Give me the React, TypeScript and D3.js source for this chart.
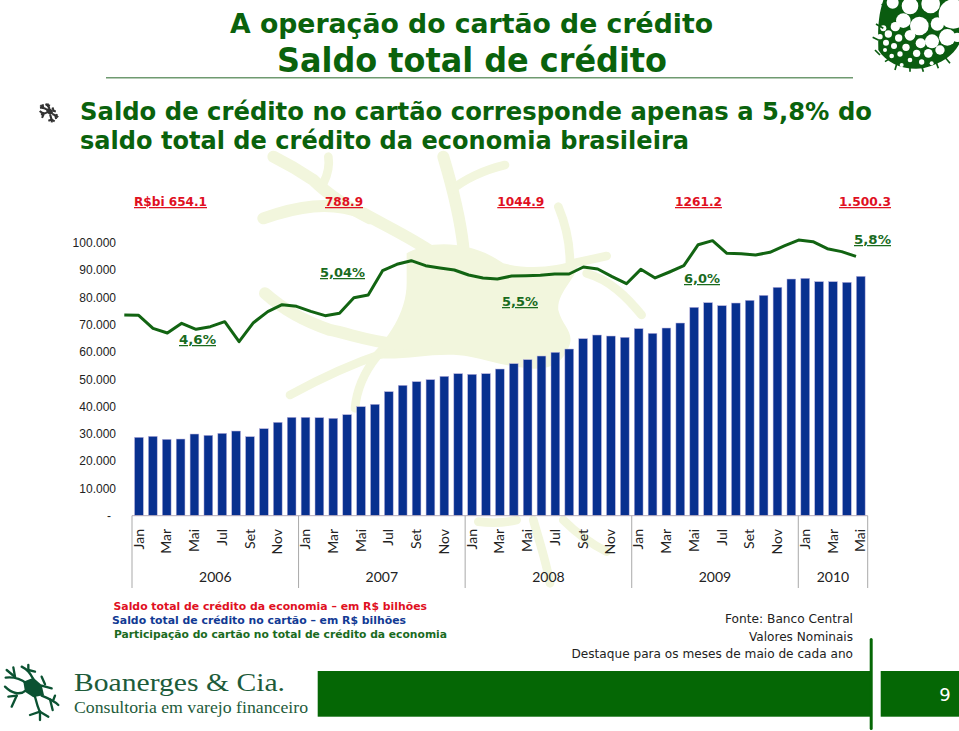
import React from "react";
import * as d3 from "d3";

const monthNames = ["Jan","Fev","Mar","Abr","Mai","Jun","Jul","Ago","Set","Out","Nov","Dez"];
const years = ["2006","2007","2008","2009","2010"];
const monthsPerYear = [12,12,12,12,5];
const cardBalance = [
  28694,29060,27960,28083,29915,29426,30159,31013,28938,31868,34188,36020,
  36020,35897,35653,36996,39927,40782,45421,47741,49084,49817,51038,52015,
  51770,52015,53724,55678,57143,58486,59829,61050,64835,66178,65812,65324,
  68498,66789,68742,70574,76313,78022,76923,77900,78877,80708,83639,86691,
  86935,85714,85714,85470,87668,
];
const cardShare = [
  4.897,4.892,4.692,4.620,4.769,4.677,4.718,4.795,4.487,4.779,4.949,5.056,5.031,
  4.954,4.887,4.923,5.164,5.205,5.579,5.677,5.733,5.656,5.621,5.590,5.513,5.467,
  5.451,5.497,5.503,5.508,5.528,5.528,5.636,5.605,5.487,5.379,5.600,5.467,5.559,
  5.656,5.979,6.041,5.846,5.841,5.821,5.862,5.959,6.051,6.026,5.918,5.872,5.800,
];
const yTicks = [10000,20000,30000,40000,50000,60000,70000,80000,90000,100000];
const totals = [
  { t: "R$bi 654.1", x: 134, w: 73 },
  { t: "788.9", x: 325, w: 38 },
  { t: "1044.9", x: 497.3, w: 47 },
  { t: "1261.2", x: 675, w: 47 },
  { t: "1.500.3", x: 839, w: 52 },
];
const shareLabels = [
  { t: "4,6%", x: 179, y: 344, w: 37 },
  { t: "5,04%", x: 320, y: 277, w: 45 },
  { t: "5,5%", x: 502, y: 306, w: 36 },
  { t: "6,0%", x: 684, y: 283, w: 36 },
  { t: "5,8%", x: 854, y: 244, w: 37 },
];
const legendLines = [
  { t: "Saldo total de crédito da economia – em R$ bilhões", x: 113.5, y: 610, w: 313.5, c: "#e0101f" },
  { t: "Saldo total de crédito no cartão – em R$ bilhões", x: 112, y: 624, w: 294, c: "#123a94" },
  { t: "Participação do cartão no total de crédito da economia", x: 114, y: 637.7, w: 333, c: "#1a6b1e" },
];
const sourceLines = [
  { t: "Fonte: Banco Central", y: 622.7, w: 128 },
  { t: "Valores Nominais", y: 640.7, w: 104 },
  { t: "Destaque para os meses de maio de cada ano", y: 658, w: 281.5 },
];

const W = 959, H = 731;
const BASE = 515.7;
const DARK = "#0a620c";
const SANS = "'DejaVu Sans', Verdana, sans-serif";
const PALE = "#f2f6dd";

const months = years.flatMap((y, i) => d3.range(monthsPerYear[i]).map(m => ({ y, m, key: `${y}-${m}` })));
const x = d3.scaleBand().domain(months.map(d => d.key)).range([132, 867.7]).paddingInner(0.37).paddingOuter(0.185);
const y = d3.scaleLinear().domain([0, 100000]).range([BASE, 242.7]);
const xs = d3.scaleLinear().domain([0, cardShare.length - 1]).range([124.3, 856]);
const ys = d3.scaleLinear().domain([5.8, 6.8]).range([256.33, 191.33]);
const line = d3.line<number>().x((_, i) => xs(i)).y(d => ys(d)).curve(d3.curveLinear);
const tickFmt = (v: number) => d3.format(",")(v).replace(/,/g, ".");

let acc = 0;
const yearEdges = years.map((yr, i) => {
  const a = x.step() * acc + 132;
  acc += monthsPerYear[i];
  const b = x.step() * acc + 132;
  return { yr, a, b };
});

const neuronStrokes = [
  "M640 330 C560 270 470 230 400 190 C300 150 200 170 100 205",
  "M420 205 C350 170 290 130 250 90 C220 70 170 40 130 20",
  "M280 100 C290 80 300 50 295 20",
  "M700 290 C690 200 670 120 640 20",
  "M665 120 C700 90 760 60 825 45",
  "M1020 340 C1020 280 1010 230 985 170",
  "M1030 340 L1130 318",
  "M1070 370 C1140 390 1190 440 1235 495",
  "M640 560 C500 610 400 560 300 540 C210 510 150 470 105 430",
  "M460 610 C370 640 280 680 180 735",
  "M440 620 C400 670 380 720 375 775",
  "M860 1110 C820 1120 780 1120 745 1115",
  "M1000 1110 C1040 1150 1080 1180 1130 1205",
  "M910 1110 C930 1180 950 1240 960 1300",
];
const neuronBody = "M530 310 C600 270 720 270 820 340 C900 360 980 350 1040 330 C1060 370 980 420 985 480 C1000 540 1050 550 1000 620 C950 690 820 640 720 620 C620 600 500 640 420 620 C470 570 530 490 530 400 Z";

const cornerBlob = "M70 0 L299 0 L299 130 C280 165 250 190 190 205 C130 212 80 190 55 150 C55 110 50 60 70 0 Z";
const cornerHoles: [number, number, number][] = [
  [280,42,44],[212,12,28],[150,18,25],[98,8,18],[130,62,22],[178,78,28],[232,72,20],[262,112,25],
  [216,124,21],[106,80,14],[150,106,16],[182,130,15],[85,102,11],[116,114,11],[138,142,11],[170,160,11],
  [205,160,13],[240,150,14],[78,128,9],[102,138,9],[120,162,8],[150,180,7],[185,186,8],[60,110,8],
  [75,150,6],[95,168,7],[125,195,6],[215,190,6],[70,85,9],[292,112,14],
];
const cornerTwigs = [
  "M70 85 L48 72","M55 120 L38 112","M45 150 L60 165","M75 185 L90 175","M105 210 L110 192",
  "M150 215 L150 195","M190 215 L185 198","M235 205 L228 185","M270 190 L255 172","M85 30 L65 12",
];

const logoBody = "M70 80 L100 68 L125 90 L132 120 L100 127 L75 110 Z";
const logoArms = [
  "M80 85 C60 70 40 65 17 68","M45 65 L40 37","M45 66 L20 45",
  "M100 72 C90 55 85 45 65 35","M85 45 L105 50","M85 47 L85 30",
  "M125 92 L155 100","M135 88 L125 65",
  "M78 106 C60 122 35 115 15 95","M50 122 L35 155","M50 122 L25 125",
  "M125 122 C145 130 165 140 175 150","M160 135 L165 122","M150 133 L158 165",
  "M105 125 C110 145 115 160 120 172","M120 170 L90 180","M120 170 L120 195","M120 170 L145 185",
];

function T({ x, y, w, size, fill, bold, under, anchor, family, children }: any) {
  return (
    <text x={x} y={y} fontSize={size} fill={fill} fontFamily={family || SANS}
      fontWeight={bold ? 700 : 400} textAnchor={anchor}
      textDecoration={under ? "underline" : undefined}
      textLength={w} lengthAdjust={w ? "spacingAndGlyphs" : undefined}>
      {children}
    </text>
  );
}

export default function App() {
  return (
    <svg width={W} height={H} viewBox={`0 0 ${W} ${H}`}
      style={{ position: "absolute", left: 0, top: 0, display: "block", background: "#fff" }}>
      <g transform="translate(230,150) scale(0.3333)">
        <path d={neuronBody} fill={PALE} />
        {neuronStrokes.map((d, i) => (
          <path key={i} d={d} fill="none" stroke={PALE} strokeWidth={i < 2 || i === 3 || i === 8 ? 36 : 26} strokeLinecap="round" />
        ))}
      </g>

      <g transform="translate(860,0) scale(0.3333)">
        <path d={cornerBlob} fill="#0a5c10" />
        {cornerHoles.map(([cx, cy, r], i) => <circle key={i} cx={cx} cy={cy} r={r} fill="#fff" />)}
        {cornerTwigs.map((d, i) => <path key={i} d={d} fill="none" stroke="#0a5c10" strokeWidth={5} />)}
      </g>

      <T x={230} y={33} w={483} size={26} fill={DARK} bold>A operação do cartão de crédito</T>
      <T x={277} y={72} w={390} size={34} fill={DARK} bold>Saldo total de crédito</T>
      <line x1={106} x2={853} y1={77.7} y2={77.7} stroke="#6f9a70" strokeWidth={1.5} />

      <g transform="translate(38,100) scale(0.115)">
        {logoArms.map((d, i) => <path key={i} d={d} fill="none" stroke="#333" strokeWidth={18} />)}
        <path d={logoBody} fill="#333" />
      </g>
      <T x={80} y={120} w={792} size={25.5} fill={DARK} bold>Saldo de crédito no cartão corresponde apenas a 5,8% do</T>
      <T x={80} y={149} w={609} size={25.5} fill={DARK} bold>saldo total de crédito da economia brasileira</T>

      {totals.map(d => <T key={d.t} x={d.x} y={206} w={d.w} size={12.5} fill="#e0101f" bold under>{d.t}</T>)}

      {yTicks.map(v => (
        <text key={v} x={116} y={y(v) + 4.3} textAnchor="end" fontSize={12} fill="#222" fontFamily="'Liberation Sans', Arial, sans-serif">{tickFmt(v)}</text>
      ))}
      <text x={109} y={y(0) + 4} textAnchor="middle" fontSize={12} fill="#222" fontFamily="'Liberation Sans', Arial, sans-serif">-</text>

      {months.map((d, i) => (
        <rect key={d.key} x={x(d.key)} y={y(cardBalance[i])} width={x.bandwidth()} height={BASE - y(cardBalance[i])}
          fill="#08308f" stroke="#b6aedb" strokeWidth={0.5} />
      ))}

      <line x1={132} x2={867.7} y1={BASE} y2={BASE} stroke="#b3a9b8" strokeWidth={1} />
      {[132, ...yearEdges.map(e => e.b)].map((ex, i) => (
        <line key={i} x1={ex} x2={ex} y1={BASE} y2={588} stroke="#a9a9a9" strokeWidth={1} />
      ))}
      {months.map((d, i) => i % 2 === 0 && (
        <text key={d.key} transform={`translate(${(x(d.key) as number) + x.bandwidth() / 2 + 4.6},529) rotate(-90)`}
          textAnchor="end" fontSize={14} fill="#222" fontFamily="Lato, 'Open Sans', sans-serif">{monthNames[d.m]}</text>
      ))}
      {yearEdges.map(e => (
        <text key={e.yr} x={(e.a + e.b) / 2} y={582} textAnchor="middle" fontSize={14} fill="#222" fontFamily="Lato, 'Open Sans', sans-serif">{e.yr}</text>
      ))}

      <path d={line(cardShare) as string} fill="none" stroke="#126412" strokeWidth={3} strokeLinejoin="round" />
      {shareLabels.map(d => <T key={d.t} x={d.x} y={d.y} w={d.w} size={12.5} fill="#1a6b1e" bold under>{d.t}</T>)}

      {legendLines.map(d => <T key={d.t} x={d.x} y={d.y} w={d.w} size={11} fill={d.c} bold>{d.t}</T>)}
      {sourceLines.map(d => <T key={d.t} x={853 - d.w} y={d.y} w={d.w} size={13} fill="#222">{d.t}</T>)}

      <g transform="translate(0,655) scale(0.3333)">
        {logoArms.map((d, i) => <path key={i} d={d} fill="none" stroke="#0b5232" strokeWidth={7} strokeLinecap="round" />)}
        <path d={logoBody} fill="#0b5232" />
      </g>
      <T x={74} y={691} w={211} size={25.5} fill="#1d5b3a" family="'Liberation Serif', serif">Boanerges &amp; Cia.</T>
      <T x={74} y={712.5} w={234} size={17.5} fill="#1d5b3a" family="'Liberation Serif', serif">Consultoria em varejo financeiro</T>

      <rect x={317.7} y={671} width={552.3} height={45.7} fill="#056705" />
      <rect x={869.7} y={638} width={3} height={92} rx={1.5} fill="#056705" />
      <rect x={880.7} y={671} width={78.3} height={45.7} fill="#056705" />
      <T x={945} y={701} size={18} fill="#fff" anchor="middle">9</T>
    </svg>
  );
}
